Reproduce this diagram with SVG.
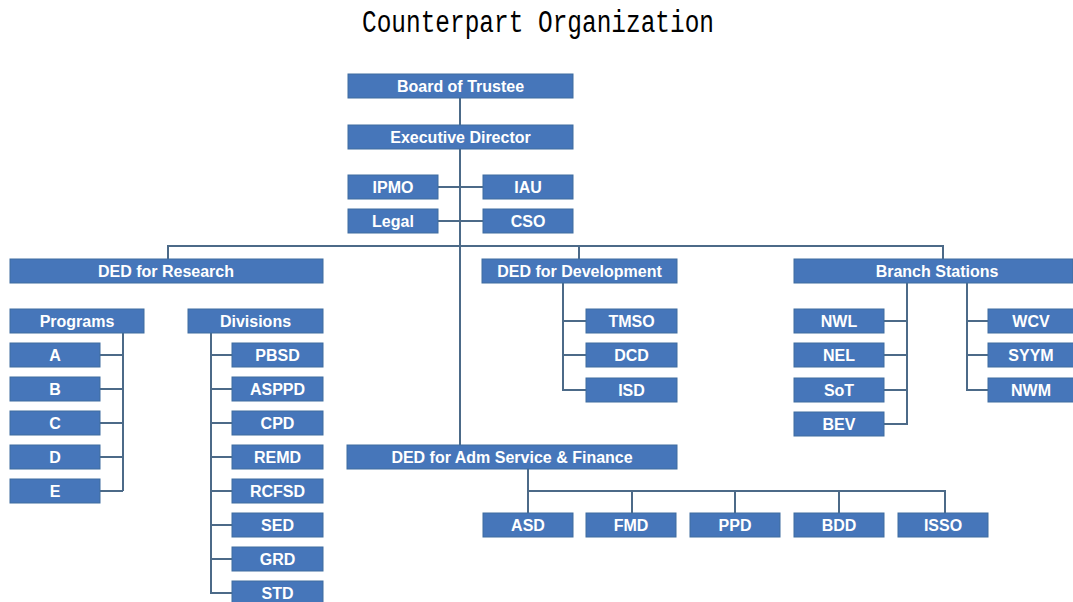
<svg xmlns="http://www.w3.org/2000/svg" width="1073" height="602" viewBox="0 0 1073 602">
<style>
.b{fill:#4676BA;stroke:#3E6C9F;stroke-width:1}
.t{fill:#fff;font-family:"Liberation Sans",Arial,sans-serif;font-weight:bold;font-size:16px;text-anchor:middle}
.c{fill:none;stroke:#4C6A88;stroke-width:2}
.title{font-family:"Liberation Mono","DejaVu Sans Mono",monospace;font-size:31px;fill:#000;text-anchor:middle}
</style>
<rect width="1073" height="602" fill="#fff"/>
<text class="title" x="538" y="32" textLength="352" lengthAdjust="spacingAndGlyphs">Counterpart Organization</text>
<g id="connectors" class="c">
<path d="M460 98V445"/>
<path d="M438 187H483M438 221H483"/>
<path d="M168 259V246H943V259M579 246V259"/>
<path d="M123 333V491M100 355H123M100 389H123M100 423H123M100 457H123M100 491H123"/>
<path d="M211 333V593H232M211 355H232M211 389H232M211 423H232M211 457H232M211 491H232M211 525H232M211 559H232"/>
<path d="M563 283V390H586M563 321H586M563 355H586"/>
<path d="M907 283V424H884M884 321H907M884 355H907M884 390H907"/>
<path d="M967 283V390H988M967 321H988M967 355H988"/>
<path d="M528 469V513M528 491H945V513M632 491V513M735 491V513M839 491V513"/>
</g>
<g id="board"><rect class="b" x="348" y="74" width="225" height="24"/><text class="t" x="460.5" y="92">Board of Trustee</text></g>
<g id="exec"><rect class="b" x="348" y="125" width="225" height="24"/><text class="t" x="460.5" y="143">Executive Director</text></g>
<g id="ipmo"><rect class="b" x="348" y="175" width="90" height="24"/><text class="t" x="393" y="193">IPMO</text></g>
<g id="iau"><rect class="b" x="483" y="175" width="90" height="24"/><text class="t" x="528" y="193">IAU</text></g>
<g id="legal"><rect class="b" x="348" y="209" width="90" height="24"/><text class="t" x="393" y="227">Legal</text></g>
<g id="cso"><rect class="b" x="483" y="209" width="90" height="24"/><text class="t" x="528" y="227">CSO</text></g>
<g id="ded-research"><rect class="b" x="10" y="259" width="313" height="24"/><text class="t" x="166" y="277">DED for Research</text></g>
<g id="ded-dev"><rect class="b" x="482" y="259" width="195" height="24"/><text class="t" x="579.5" y="277">DED for Development</text></g>
<g id="branch"><rect class="b" x="794" y="259" width="279" height="24"/><text class="t" x="937" y="277">Branch Stations</text></g>
<g id="programs"><rect class="b" x="10" y="309" width="134" height="24"/><text class="t" x="77" y="327">Programs</text></g>
<g id="prog-a"><rect class="b" x="10" y="343" width="90" height="24"/><text class="t" x="55" y="361">A</text></g>
<g id="prog-b"><rect class="b" x="10" y="377" width="90" height="24"/><text class="t" x="55" y="395">B</text></g>
<g id="prog-c"><rect class="b" x="10" y="411" width="90" height="24"/><text class="t" x="55" y="429">C</text></g>
<g id="prog-d"><rect class="b" x="10" y="445" width="90" height="24"/><text class="t" x="55" y="463">D</text></g>
<g id="prog-e"><rect class="b" x="10" y="479" width="90" height="24"/><text class="t" x="55" y="497">E</text></g>
<g id="divisions"><rect class="b" x="188" y="309" width="135" height="24"/><text class="t" x="255.5" y="327">Divisions</text></g>
<g id="pbsd"><rect class="b" x="232" y="343" width="91" height="24"/><text class="t" x="277.5" y="361">PBSD</text></g>
<g id="asppd"><rect class="b" x="232" y="377" width="91" height="24"/><text class="t" x="277.5" y="395">ASPPD</text></g>
<g id="cpd"><rect class="b" x="232" y="411" width="91" height="24"/><text class="t" x="277.5" y="429">CPD</text></g>
<g id="remd"><rect class="b" x="232" y="445" width="91" height="24"/><text class="t" x="277.5" y="463">REMD</text></g>
<g id="rcfsd"><rect class="b" x="232" y="479" width="91" height="24"/><text class="t" x="277.5" y="497">RCFSD</text></g>
<g id="sed"><rect class="b" x="232" y="513" width="91" height="24"/><text class="t" x="277.5" y="531">SED</text></g>
<g id="grd"><rect class="b" x="232" y="547" width="91" height="24"/><text class="t" x="277.5" y="565">GRD</text></g>
<g id="std"><rect class="b" x="232" y="581" width="91" height="24"/><text class="t" x="277.5" y="599">STD</text></g>
<g id="tmso"><rect class="b" x="586" y="309" width="91" height="24"/><text class="t" x="631.5" y="327">TMSO</text></g>
<g id="dcd"><rect class="b" x="586" y="343" width="91" height="24"/><text class="t" x="631.5" y="361">DCD</text></g>
<g id="isd"><rect class="b" x="586" y="378" width="91" height="24"/><text class="t" x="631.5" y="396">ISD</text></g>
<g id="nwl"><rect class="b" x="794" y="309" width="90" height="24"/><text class="t" x="839" y="327">NWL</text></g>
<g id="nel"><rect class="b" x="794" y="343" width="90" height="24"/><text class="t" x="839" y="361">NEL</text></g>
<g id="sot"><rect class="b" x="794" y="378" width="90" height="24"/><text class="t" x="839" y="396">SoT</text></g>
<g id="bev"><rect class="b" x="794" y="412" width="90" height="24"/><text class="t" x="839" y="430">BEV</text></g>
<g id="wcv"><rect class="b" x="988" y="309" width="86" height="24"/><text class="t" x="1031" y="327">WCV</text></g>
<g id="syym"><rect class="b" x="988" y="343" width="86" height="24"/><text class="t" x="1031" y="361">SYYM</text></g>
<g id="nwm"><rect class="b" x="988" y="378" width="86" height="24"/><text class="t" x="1031" y="396">NWM</text></g>
<g id="ded-adm"><rect class="b" x="347" y="445" width="330" height="24"/><text class="t" x="512" y="463">DED for Adm Service &amp; Finance</text></g>
<g id="asd"><rect class="b" x="483" y="513" width="90" height="24"/><text class="t" x="528" y="531">ASD</text></g>
<g id="fmd"><rect class="b" x="586" y="513" width="90" height="24"/><text class="t" x="631" y="531">FMD</text></g>
<g id="ppd"><rect class="b" x="690" y="513" width="90" height="24"/><text class="t" x="735" y="531">PPD</text></g>
<g id="bdd"><rect class="b" x="794" y="513" width="90" height="24"/><text class="t" x="839" y="531">BDD</text></g>
<g id="isso"><rect class="b" x="898" y="513" width="90" height="24"/><text class="t" x="943" y="531">ISSO</text></g>
</svg>
